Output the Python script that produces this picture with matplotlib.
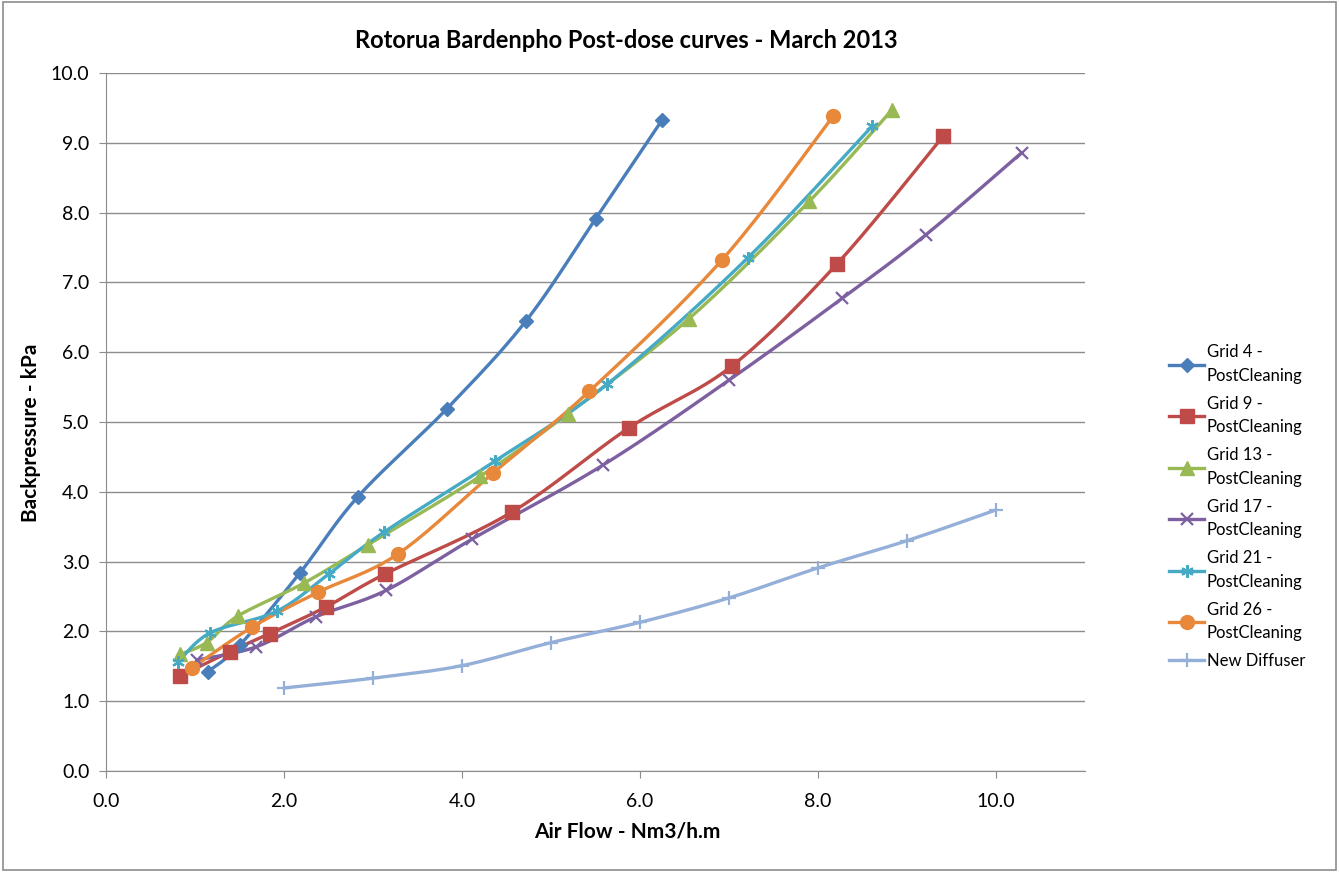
import matplotlib
matplotlib.use("Agg")
import matplotlib.pyplot as plt
import numpy as np
from matplotlib.patches import Rectangle

plt.rcParams['font.family'] = ['Lato', 'DejaVu Sans']

# data
g4_x = [1.14, 1.50, 2.18, 2.83, 3.83, 4.72, 5.50, 6.25]
g4_y = [1.42, 1.80, 2.84, 3.93, 5.19, 6.45, 7.91, 9.33]

g9_x = [0.83, 1.39, 1.84, 2.47, 3.13, 4.56, 5.88, 7.03, 8.21, 9.41]
g9_y = [1.36, 1.71, 1.97, 2.35, 2.82, 3.71, 4.92, 5.80, 7.26, 9.10]

g13_x = [0.83, 1.13, 1.48, 2.22, 2.94, 4.20, 5.19, 6.55, 7.90, 8.83]
g13_y = [1.67, 1.84, 2.22, 2.69, 3.24, 4.22, 5.12, 6.48, 8.16, 9.47]

g17_x = [1.02, 1.69, 2.36, 3.15, 4.11, 5.58, 7.00, 8.27, 9.21, 10.29]
g17_y = [1.59, 1.78, 2.21, 2.59, 3.32, 4.38, 5.60, 6.77, 7.68, 8.86]

g21_x = [0.81, 1.17, 1.92, 2.50, 3.12, 4.37, 5.63, 7.21, 8.61]
g21_y = [1.56, 1.98, 2.29, 2.82, 3.42, 4.44, 5.54, 7.35, 9.24]

g26_x = [0.97, 1.64, 2.38, 3.28, 4.35, 5.43, 6.92, 8.17]
g26_y = [1.48, 2.06, 2.56, 3.11, 4.27, 5.44, 7.32, 9.38]

new_x = [2, 3, 4, 5, 6, 7, 8, 9, 10]
new_y = [1.19, 1.33, 1.51, 1.84, 2.13, 2.48, 2.91, 3.30, 3.74]

series = [
    ("Grid 4 -\nPostCleaning", g4_x, g4_y, "#4A7EBB", "D", 7),
    ("Grid 9 -\nPostCleaning", g9_x, g9_y, "#BE4B48", "s", 9.5),
    ("Grid 13 -\nPostCleaning", g13_x, g13_y, "#98B954", "^", 9.5),
    ("Grid 17 -\nPostCleaning", g17_x, g17_y, "#7D60A0", "x", 8),
    ("Grid 21 -\nPostCleaning", g21_x, g21_y, "#46AAC5", (6, 2, 0), 9),
    ("Grid 26 -\nPostCleaning", g26_x, g26_y, "#E8883A", "o", 10),
    ("New Diffuser", new_x, new_y, "#94AFD8", "+", 10),
]


def smooth(xs, ys, n=20):
    # excel-like smoothed line (catmull-rom through bezier)
    p = np.column_stack([xs, ys]).astype(float)
    p = np.vstack([p[0], p, p[-1]])
    out = []
    t = np.linspace(0, 1, n)[:, None]
    for i in range(1, len(p) - 2):
        p0, p1, p2, p3 = p[i - 1], p[i], p[i + 1], p[i + 2]
        c1 = p1 + (p2 - p0) / 6
        c2 = p2 - (p3 - p1) / 6
        seg = ((1 - t) ** 3) * p1 + 3 * ((1 - t) ** 2) * t * c1 + 3 * (1 - t) * t ** 2 * c2 + t ** 3 * p2
        out.append(seg)
    out = np.vstack(out)
    return out[:, 0], out[:, 1]


fig = plt.figure(figsize=(13.39, 8.72), dpi=100)
ax = fig.add_axes([0.0792, 0.1158, 0.7311, 0.8005])

handles = []
for name, xs, ys, col, mk, ms in series:
    sx, sy = smooth(xs, ys)
    ax.plot(sx, sy, color=col, lw=2.4, solid_capstyle='round', zorder=3)
    mew = 1.6 if mk in ("x", "+", (6, 2, 0)) else 1
    ax.plot(xs, ys, ls='none', marker=mk, ms=ms, color=col, mec=col, mew=mew, zorder=4)
    h, = ax.plot([], [], color=col, lw=2.4, marker=mk, ms=ms, mec=col, mew=mew)
    handles.append((h, name))

ax.set_xlim(0, 11)
ax.set_ylim(0, 10)
ax.set_xticks(np.arange(0, 11, 2))
ax.set_yticks(np.arange(0, 11, 1))
ax.set_xticklabels(["%.1f" % v for v in np.arange(0, 11, 2)])
ax.set_yticklabels(["%.1f" % v for v in np.arange(0, 11, 1)])
ax.yaxis.grid(True, color="#8C8C8C", lw=1)
ax.set_axisbelow(True)
for s in ("top", "right"):
    ax.spines[s].set_visible(False)
for s in ("left", "bottom"):
    ax.spines[s].set_color("#8C8C8C")
ax.tick_params(axis='both', colors="#8C8C8C", labelcolor="black", labelsize=14, length=5)
ax.tick_params(axis='x', pad=11)
ax.tick_params(axis='y', pad=7)

ax.set_xlabel("Air Flow - Nm3/h.m", fontsize=15, fontweight="bold")
ax.xaxis.set_label_coords(0.532, -0.073)
ax.set_ylabel("Backpressure - kPa", fontsize=15, fontweight="bold")
ax.yaxis.set_label_coords(-0.066, 0.484)
fig.text(0.468, 0.953, "Rotorua Bardenpho Post-dose curves - March 2013",
         ha="center", va="center", fontsize=17, fontweight="bold")

fig.legend([h for h, _ in handles], [n for _, n in handles], loc="center left",
           bbox_to_anchor=(0.862, 0.419), frameon=False, fontsize=12,
           handlelength=2.1, handletextpad=0.15, labelspacing=0.7)
for t in fig.legends[0].get_texts():
    t.set_linespacing(1.6)

fig.patches.append(Rectangle((0.002, 0.002), 0.996, 0.996, transform=fig.transFigure,
                             fill=False, edgecolor="#8C8C8C", lw=1.2))

fig.savefig("out.png", dpi=100)
